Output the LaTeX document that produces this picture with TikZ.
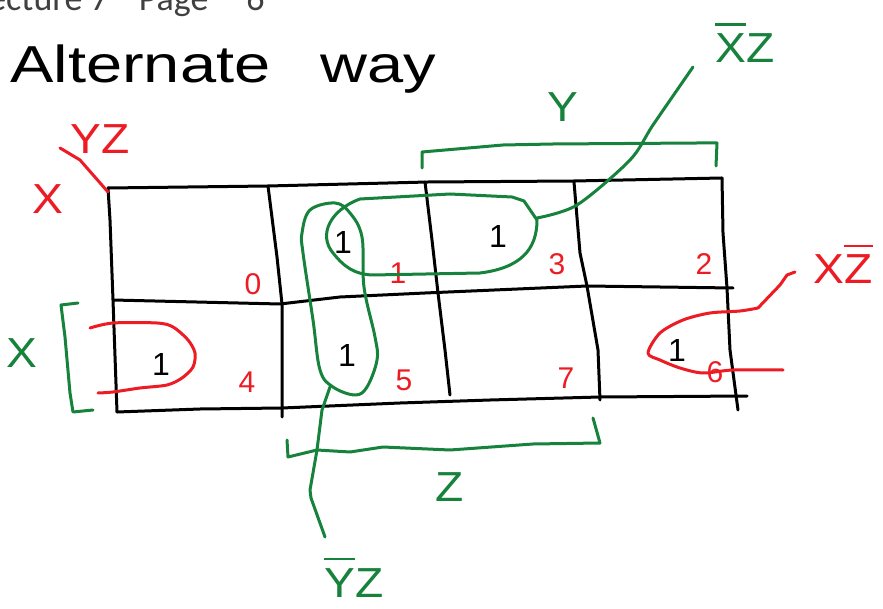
\documentclass[tikz,border=0pt]{standalone}
\usepackage{fontspec}
\setmainfont{Liberation Sans}
\newfontfamily\hdrfont{Carlito}
\definecolor{kred}{RGB}{237,28,36}
\definecolor{kgreen}{RGB}{22,130,60}
\definecolor{hdrgray}{RGB}{64,64,64}
\newcommand\ovbar[1]{\leavevmode\vbox{\hrule height 2.6pt\kern 8pt\hbox{#1}}}
\begin{document}
\begin{tikzpicture}[x=1pt,y=-1pt, line cap=round, line join=round,
  ink/.style={line width=3pt},
  gridline/.style={ink, black},
  gloop/.style={ink, kgreen},
  rloop/.style={ink, kred},
  lbl/.style={font=\fontsize{42}{42}\selectfont, inner sep=0pt, xscale=1.1},
  num/.style={text=kred, font=\fontsize{30}{30}\selectfont, inner sep=0pt},
  one/.style={font=\fontsize{32}{32}\selectfont, inner sep=0pt}]
\useasboundingbox (0,0) rectangle (883,609);
\fill[white] (0,0) rectangle (883,609);

% header (clipped at the top edge, as in the reference)
\begin{scope}
\clip (0,0) rectangle (883,609);
\node[anchor=base west, inner sep=0pt, text=hdrgray, font=\hdrfont\fontsize{36}{36}\selectfont] (hdr) at (-27,11) {Lecture 7\hspace{30pt}Page\hspace{38pt}6};
\end{scope}

% title
\node[anchor=base west, inner sep=0pt, xscale=1.25, font=\fontsize{52}{52}\selectfont] (title) at (10,83) {Alternate\hspace{40pt}way};

% grid
\draw[gridline] (108,188) -- (268,186) -- (428,182) -- (574,181) -- (722,178);
\draw[gridline] (113,300) -- (280,304) -- (340,297) -- (425,293) -- (587,286) -- (733,288);
\draw[gridline] (117,412) -- (200,409) -- (282,408) -- (400,403) -- (490,400) -- (600,397) -- (747,396);
\draw[gridline] (108,188) -- (110,220) -- (113,300) -- (117,412);
\draw[gridline] (268,186) -- (277,257) -- (282,304) -- (282,417);
\draw[gridline] (425,182) -- (432,240) -- (438,293) -- (445,350) -- (450,395);
\draw[gridline] (574,182) -- (580,253) -- (587,286) -- (598,350) -- (600,400);
\draw[gridline] (722,178) -- (723,233) -- (727,288) -- (730,350) -- (738,410);

% red corner labels
\draw[rloop] (60,148) -- (80,160) -- (108,192);
\node[lbl, text=kred] (yz) at (100,139) {YZ};
\node[lbl, text=kred] (xrow) at (48,199) {X};

% cell numbers
\node[num] (n0) at (253,284) {0};
\node[num] (n1) at (398,273) {1};
\node[num] (n3) at (557,264) {3};
\node[num] (n2) at (704,264) {2};
\node[num] (n4) at (247,382) {4};
\node[num] (n5) at (404,380) {5};
\node[num] (n7) at (566,378) {7};
\node[num] (n6) at (715,372) {6};

% cell ones
\node[one] (c1) at (343,242) {1};
\node[one] (c3) at (498,236) {1};
\node[one] (c4) at (161,364) {1};
\node[one] (c5) at (347,355) {1};
\node[one] (c6) at (677,350) {1};

% green group loops
\draw[gloop] (512,197) -- (450,194) -- (360,199) .. controls (330,210) and (318,235) .. (333,253)
  .. controls (345,268) and (355,274) .. (372,275) -- (480,273)
  .. controls (520,268) and (537,250) .. (537,220) -- (524,201) -- (512,197);
\draw[gloop] plot[smooth cycle, tension=0.6] coordinates {(335,203) (350,213) (362,237) (364,287) (375,337) (377,360) (367,387) (355,395) (333,387) (320,370) (313,320) (303,253) (302,233) (310,210)};
\coordinate (vl) at (330,387);
\coordinate (vend) at (325,537);
\draw[gloop] (vl) -- (322,410) -- (317,450) -- (310,490) -- (311,498) -- (vend);
\coordinate (hl) at (537,218);
\coordinate (hend) at (693,67);
\draw[gloop] plot[smooth, tension=0.5] coordinates {(hl) (577,205) (630,160) (653,125) (hend)};

% red group loops
\draw[rloop] plot[smooth, tension=0.5] coordinates {(90,328) (113,323) (157,323) (173,327) (188,340) (195,353) (193,367) (182,378) (167,385) (140,388) (113,392) (98,393)};
\draw[rloop] plot[smooth, tension=0.5] coordinates {(783,370) (733,370) (703,373) (680,368) (660,360) (648,353) (660,333) (683,320) (710,313) (740,311) (758,308)};
\coordinate (rl) at (758,308);
\draw[rloop] (rl) -- (780,285) -- (787,275) -- (795,272);

% green brackets
\draw[gloop] (422,168) -- (422,152) -- (503,145) -- (553,144) -- (697,143) -- (717,143) -- (716,166);
\draw[gloop] (78,303) -- (61,305) -- (65,337) -- (70,393) -- (73,412) -- (93,410);
\draw[gloop] (287,440) -- (288,457) -- (317,450) -- (350,452) -- (383,447) -- (450,450) -- (533,444) -- (600,443) -- (593,418);

% green labels
\node[lbl, text=kgreen] (ylab) at (563,107) {Y};
\node[lbl, text=kgreen] (xlab) at (22,353) {X};
\node[lbl, text=kgreen] (zlab) at (450,487) {Z};
\node[lbl, text=kgreen, anchor=base] (xbz) at (745,63) {\ovbar{X}Z};
\node[lbl, text=kgreen, anchor=base] (ybz) at (354,597) {\ovbar{Y}Z};
\node[lbl, text=kred, anchor=base] (xzb) at (843,284) {X\ovbar{Z}};
\end{tikzpicture}
\end{document}
